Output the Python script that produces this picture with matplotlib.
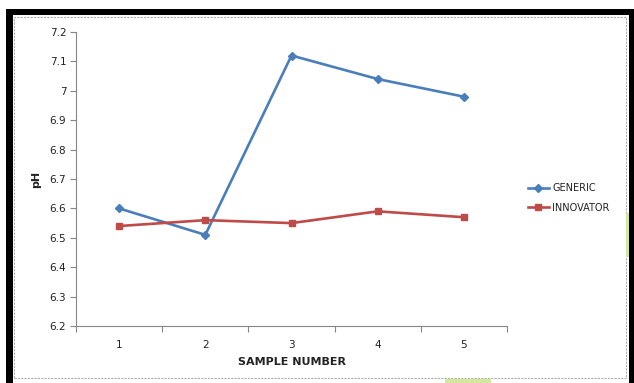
import matplotlib
matplotlib.use("Agg")
import matplotlib.pyplot as plt
from matplotlib.patches import Rectangle

samples = [1, 2, 3, 4, 5]
generic = [6.60, 6.51, 7.12, 7.04, 6.98]
innovator = [6.54, 6.56, 6.55, 6.59, 6.57]
yticks = [6.2, 6.3, 6.4, 6.5, 6.6, 6.7, 6.8, 6.9, 7.0, 7.1, 7.2]
ytick_labels = ["6.2", "6.3", "6.4", "6.5", "6.6", "6.7", "6.8", "6.9", "7", "7.1", "7.2"]

W, H = 634, 383
fig = plt.figure(figsize=(W / 100, H / 100), dpi=100)

def fx(px):
    return px / W

def fy(py):
    return 1 - py / H

# frame decorations
def rect(x0, y0, x1, y1, **kw):
    fig.patches.append(Rectangle((fx(x0), fy(y1)), fx(x1) - fx(x0), fy(y0) - fy(y1),
                                 transform=fig.transFigure, **kw))

rect(6, 9, 634, 15, color="black", lw=0)
rect(6, 9, 13, 383, color="black", lw=0)
rect(629, 9, 634, 383, color="black", lw=0)
rect(14, 17, 625.5, 377.5, fill=False, edgecolor="#b0b0b0", lw=0.8, linestyle=(0, (2, 1)))
rect(626, 213, 629, 257, color="#d4e89a", lw=0)
rect(445, 378.5, 491, 383, color="#d4e89a", lw=0)

ax = fig.add_axes([fx(76), fy(326), fx(507) - fx(76), fy(32) - fy(326)])

blue = "#4A7EBB"
red = "#BE4B48"
ax.plot(samples, generic, color=blue, lw=1.9, marker="D", markersize=4.5,
        markeredgecolor=blue, label="GENERIC")
ax.plot(samples, innovator, color=red, lw=1.9, marker="s", markersize=5,
        markeredgecolor=red, label="INNOVATOR")

ax.set_xlim(0.5, 5.5)
ax.set_ylim(6.2, 7.2)
ax.set_yticks(yticks)
ax.set_yticklabels(ytick_labels)
ax.set_xticks(samples)
ax.set_xticks([0.5, 1.5, 2.5, 3.5, 4.5, 5.5], minor=True)

for s in ["top", "right"]:
    ax.spines[s].set_visible(False)
for s in ["left", "bottom"]:
    ax.spines[s].set_color("#868686")
    ax.spines[s].set_linewidth(0.8)

ax.tick_params(axis="y", which="major", length=4, width=0.8, color="#868686",
               labelsize=7.5, pad=3, labelcolor="#222222")
ax.tick_params(axis="x", which="major", length=0, labelsize=7.5, pad=10,
               labelcolor="#222222")
ax.tick_params(axis="x", which="minor", length=4, width=0.8, color="#868686")

ax.set_xlabel("SAMPLE NUMBER", fontsize=8, fontweight="bold", labelpad=5, color="#222222")
ax.set_ylabel("pH", fontsize=8, fontweight="bold", labelpad=6, color="#222222")

fig.legend(loc="center left", bbox_to_anchor=(fx(519), fy(198)), frameon=False,
           fontsize=7, handlelength=2.2, handletextpad=0.3, labelspacing=1.0,
           labelcolor="#222222")

fig.savefig("out.png", dpi=100)
